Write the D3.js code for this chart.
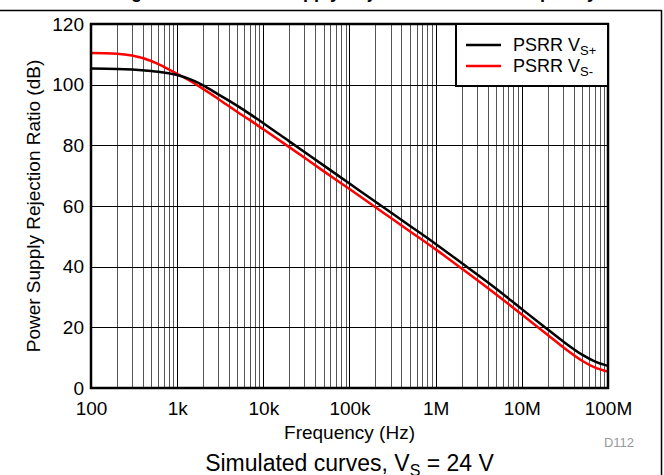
<!DOCTYPE html>
<html>
<head>
<meta charset="utf-8">
<script src="https://cdn.jsdelivr.net/npm/d3@7"></script>
<style>
  body { margin: 0; background: #fff; }
  svg { display: block; font-family: Arial, "Liberation Sans", sans-serif; }
</style>
</head>
<body>
<svg id="chart" width="664" height="475"></svg>
<script>
// data
var freqs = [100, 200, 300, 500, 700, 1e3, 1.5e3, 2e3, 3e3, 5e3, 7e3, 1e4, 2e4, 5e4, 1e5, 2e5, 5e5,
             1e6, 2e6, 5e6, 1e7, 2e7, 3e7, 5e7, 7e7, 1e8];
var psrrPos = [105.3, 105.2, 105.0, 104.5, 104.0, 103.2, 101.5, 99.8, 96.8, 93.0, 90.3, 87.3, 81.3, 73.4,
               67.4, 61.4, 53.5, 47.5, 41.2, 32.8, 26.0, 19.3, 15.4, 11.0, 8.8, 7.3];
var psrrNeg = [110.4, 110.2, 109.6, 107.8, 105.9, 103.6, 100.8, 98.6, 95.3, 91.0, 88.3, 85.3, 79.4, 71.5,
               65.6, 59.6, 51.7, 45.7, 39.4, 30.9, 24.2, 17.5, 13.5, 9.0, 6.8, 5.4];
var xTicks = [1e2, 1e3, 1e4, 1e5, 1e6, 1e7, 1e8];
var xTickLabels = ["100", "1k", "10k", "100k", "1M", "10M", "100M"];
var yTicks = [0, 20, 40, 60, 80, 100, 120];

var margin = {top: 24, right: 56, bottom: 87, left: 91},
    width = 664 - margin.left - margin.right,
    height = 475 - margin.top - margin.bottom;

var svg = d3.select("#chart");

// figure frame + caption (cut off at the top, as in the original)
svg.append("text")
    .attr("x", 356)
    .attr("y", -2)
    .attr("text-anchor", "middle")
    .style("font-size", "18px")
    .style("font-weight", "bold")
    .text("Figure 7-12. Power Supply Rejection Ratio vs Frequency");

svg.append("line")
    .attr("x1", 0).attr("x2", 661.5)
    .attr("y1", 10.5).attr("y2", 10.5)
    .style("stroke", "#000").style("stroke-width", 1.5);
svg.append("line")
    .attr("x1", 661.5).attr("x2", 661.5)
    .attr("y1", 10).attr("y2", 475)
    .style("stroke", "#000").style("stroke-width", 1.5);

var chart = svg.append("g")
    .attr("transform", "translate(" + margin.left + "," + margin.top + ")");

var x = d3.scaleLog()
    .domain([1e2, 1e8])
    .range([0, width]);

var y = d3.scaleLinear()
    .domain([0, 120])
    .range([height, 0]);

// grid
var minor = [];
for (var e = 2; e < 8; e++) {
  for (var m = 2; m <= 9; m++) minor.push(m * Math.pow(10, e));
}

chart.append("g").selectAll("line")
    .data(minor)
  .enter().append("line")
    .attr("x1", function(d) { return Math.round(x(d)) + 0.5; })
    .attr("x2", function(d) { return Math.round(x(d)) + 0.5; })
    .attr("y1", 0).attr("y2", height)
    .style("stroke", "#555")
    .style("stroke-width", 1);

chart.append("g").selectAll("line")
    .data(xTicks)
  .enter().append("line")
    .attr("x1", function(d) { return Math.round(x(d)) + 0.5; })
    .attr("x2", function(d) { return Math.round(x(d)) + 0.5; })
    .attr("y1", 0).attr("y2", height)
    .style("stroke", "#000")
    .style("stroke-width", 1);

chart.append("g").selectAll("line")
    .data(yTicks)
  .enter().append("line")
    .attr("x1", 0).attr("x2", width)
    .attr("y1", function(d) { return Math.round(y(d)) + 0.5; })
    .attr("y2", function(d) { return Math.round(y(d)) + 0.5; })
    .style("stroke", "#000")
    .style("stroke-width", 1);

// curves
var line = d3.line()
    .x(function(d) { return x(d[0]); })
    .y(function(d) { return y(d[1]); })
    .curve(d3.curveMonotoneX);

chart.append("path")
    .datum(d3.zip(freqs, psrrNeg))
    .attr("d", line)
    .style("fill", "none")
    .style("stroke", "#ff0000")
    .style("stroke-width", 2.5);

chart.append("path")
    .datum(d3.zip(freqs, psrrPos))
    .attr("d", line)
    .style("fill", "none")
    .style("stroke", "#000")
    .style("stroke-width", 2.5);

// plot frame
chart.append("rect")
    .attr("width", width)
    .attr("height", height)
    .style("fill", "none")
    .style("stroke", "#000")
    .style("stroke-width", 2.5);

// axes
var xAxis = chart.append("g")
    .attr("transform", "translate(0," + height + ")")
    .call(d3.axisBottom(x)
      .tickValues(xTicks)
      .tickSize(0)
      .tickPadding(14)
      .tickFormat(function(d, i) { return xTickLabels[i]; }));

var yAxis = chart.append("g")
    .call(d3.axisLeft(y)
      .tickValues(yTicks)
      .tickSize(0)
      .tickPadding(7));

[xAxis, yAxis].forEach(function(a) {
  a.select(".domain").remove();
  a.selectAll("text")
    .style("font-family", "Arial, 'Liberation Sans', sans-serif")
    .style("font-size", "19px")
    .style("fill", "#000");
});

// axis titles
svg.append("text")
    .attr("transform", "translate(40," + (margin.top + height / 2) + ") rotate(-90)")
    .attr("text-anchor", "middle")
    .style("font-size", "19px")
    .text("Power Supply Rejection Ratio (dB)");

svg.append("text")
    .attr("x", margin.left + width / 2)
    .attr("y", 439)
    .attr("text-anchor", "middle")
    .style("font-size", "19px")
    .text("Frequency (Hz)");

svg.append("text")
    .attr("x", 634)
    .attr("y", 447)
    .attr("text-anchor", "end")
    .style("font-size", "13px")
    .style("fill", "#999")
    .text("D112");

var sub = svg.append("text")
    .attr("x", margin.left + width / 2)
    .attr("y", 471)
    .attr("text-anchor", "middle")
    .style("font-size", "23px");
sub.append("tspan").text("Simulated curves, V");
sub.append("tspan").attr("dy", 5).style("font-size", "16px").text("S");
sub.append("tspan").attr("dy", -5).text(" = 24 V");

// legend
var legend = chart.append("g")
    .attr("transform", "translate(" + (width - 152) + ",0)");

legend.append("rect")
    .attr("width", 152)
    .attr("height", 62)
    .style("fill", "#fff")
    .style("stroke", "#000")
    .style("stroke-width", 2);

var legendItems = [
  {name: "PSRR V", sub: "S+", color: "#000"},
  {name: "PSRR V", sub: "S-", color: "#ff0000"}
];

var item = legend.selectAll(".item")
    .data(legendItems)
  .enter().append("g")
    .attr("class", "item")
    .attr("transform", function(d, i) { return "translate(0," + (21 + i * 21) + ")"; });

item.append("line")
    .attr("x1", 10).attr("x2", 45)
    .style("stroke", function(d) { return d.color; })
    .style("stroke-width", 2.5);

var lt = item.append("text")
    .attr("x", 57)
    .attr("y", 6)
    .style("font-size", "18px");
lt.append("tspan").text(function(d) { return d.name; });
lt.append("tspan").attr("dy", 4).style("font-size", "13px").text(function(d) { return d.sub; });
</script>
</body>
</html>
